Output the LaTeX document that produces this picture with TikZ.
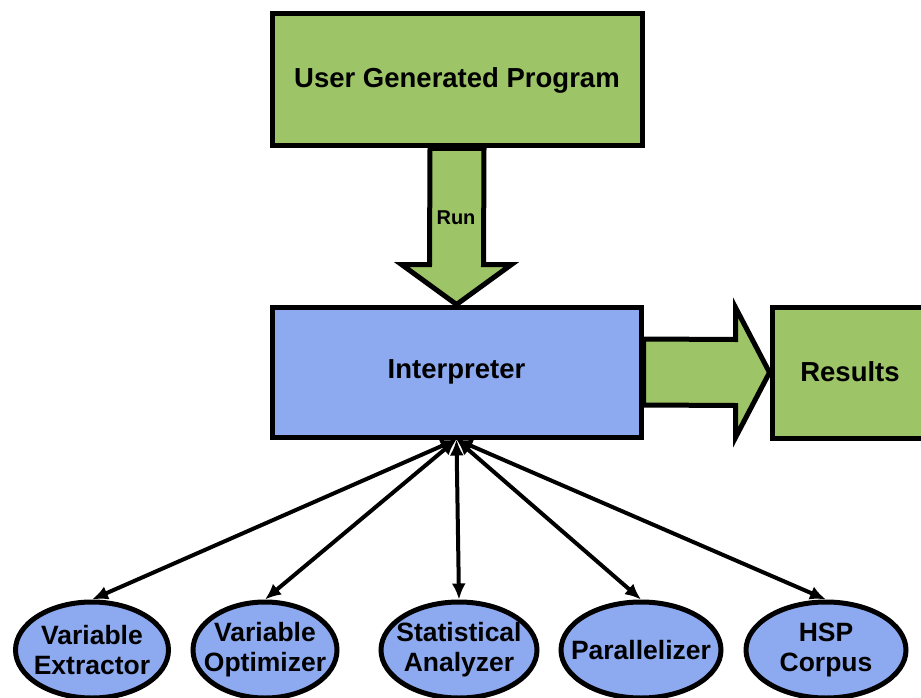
\documentclass[tikz,border=0pt]{standalone}
\usepackage{fontspec}
\setmainfont{Liberation Sans}
\usetikzlibrary{arrows.meta,shapes.geometric,calc}
\definecolor{boxgreen}{RGB}{157,196,102}
\definecolor{boxblue}{RGB}{141,170,240}
\begin{document}
\begin{tikzpicture}[x=1pt,y=-1pt,
  box/.style={draw=black,line width=5pt,rectangle,inner sep=0pt,
    font=\fontsize{27.5}{33}\selectfont\bfseries},
  greenbox/.style={box,fill=boxgreen},
  bluebox/.style={box,fill=boxblue},
  module/.style={draw=black,line width=5pt,ellipse,fill=boxblue,inner sep=0pt,
    minimum height=96pt},
  moduletext/.style={align=center,inner sep=0pt,
    font=\fontsize{26.5}{30}\selectfont\bfseries},
  blockarrow/.style={draw=black,line width=5pt,fill=boxgreen,line join=miter},
  link/.style={draw=black,line width=4pt,{Latex[length=16pt,width=14pt]}-{Latex[length=16pt,width=14pt]}}
]
\useasboundingbox (0,0) rectangle (921,698);
\clip (0,0) rectangle (921,698);

% main blocks
\node[greenbox,minimum width=370pt,minimum height=132pt] (ugp) at (457,80) {User Generated Program};
\node[bluebox,minimum width=369pt,minimum height=130pt] (interp) at (456.5,372) {Interpreter};
\node[greenbox,minimum width=196pt,minimum height=131pt] (results) at (870,372.5) {};
\node[font=\fontsize{27.5}{33}\selectfont\bfseries] (restext) at (850,372) {Results};

% block arrow: program -> interpreter
\draw[blockarrow] ($(ugp.south)+(-27,0)$) -- ($(ugp.south)+(27,0)$)
  -- ($(interp.north)+(27,-40)$) -- ($(interp.north)+(55,-40)$)
  -- (interp.north)
  -- ($(interp.north)+(-55,-40)$) -- ($(interp.north)+(-27,-40)$) -- cycle;
\node[font=\fontsize{20}{24}\selectfont\bfseries] (run) at (456,218) {Run};

% block arrow: interpreter -> results
\draw[blockarrow] ($(interp.east)+(0,-33)$) -- ($(results.west)+(-34,-33)$)
  -- ($(results.west)+(-34,-65)$) -- (results.west)
  -- ($(results.west)+(-34,65)$) -- ($(results.west)+(-34,33)$)
  -- ($(interp.east)+(0,33)$) -- cycle;

% supporting modules
\node[module,minimum width=153pt] (e1) at (92,650) {};
\node[module,minimum width=144pt] (e2) at (265,650) {};
\node[module,minimum width=156pt] (e3) at (459,650) {};
\node[module,minimum width=160pt] (e4) at (641,650) {};
\node[module,minimum width=160pt] (e5) at (826,650) {};
\node[moduletext] (t1) at (e1) {Variable\\Extractor};
\node[moduletext] (t2) at (e2) {Variable\\Optimizer};
\node[moduletext] (t3) at (e3) {Statistical\\Analyzer};
\node[moduletext] (t4) at (e4) {Parallelizer};
\node[moduletext] (t5) at (e5) {HSP\\Corpus};

% two-way links
\foreach \m in {e1,e2,e3,e4,e5}
  \draw[link] (interp.south) -- (\m.north);
\end{tikzpicture}
\end{document}
